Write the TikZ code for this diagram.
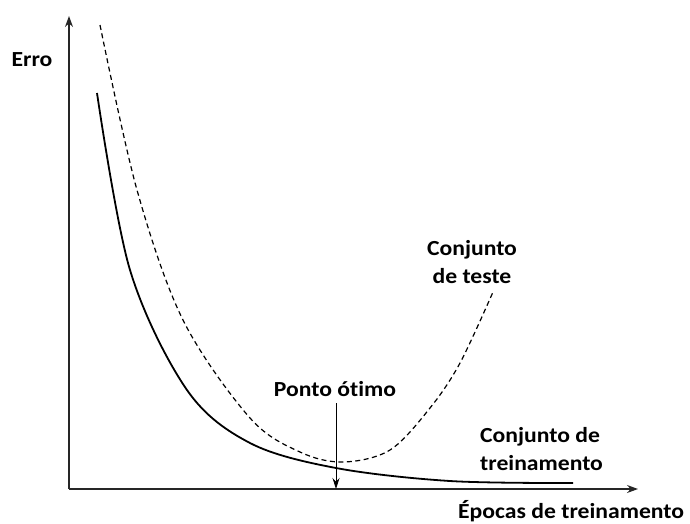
\documentclass[tikz,border=0pt]{standalone}
\usepackage{fontspec}
\setmainfont{Carlito}[FakeStretch=1.1, Ligatures=NoCommon]
\usetikzlibrary{arrows.meta}
\begin{document}
\begin{tikzpicture}[x=1pt,y=-1pt,
  lbl/.style={font=\bfseries\fontsize{21.5}{28}\selectfont, inner sep=0pt, align=center},
  axis/.style={line width=1.2pt, draw=black!85, -{Stealth[length=11pt,width=8pt]}},
  train/.style={line width=1.8pt},
  test/.style={line width=1.2pt, dash pattern=on 5pt off 3.5pt},
  ptr/.style={line width=0.9pt, -{Stealth[length=11pt,width=7pt]}}]
\useasboundingbox (0,0) rectangle (690,523);
\coordinate (O) at (69,489);
\coordinate (Ytop) at (69,16);
\coordinate (Xend) at (638,489);
\draw[axis] (O) -- (Ytop);
\draw[axis] (O) -- (Xend);
% training curve
\draw[train] plot[smooth, tension=0.55] coordinates {(97,93) (130,270) (187,390) (250,443) (336,468) (450,481) (573,483)};
% test curve
\draw[test] plot[smooth, tension=0.55] coordinates {(100,25) (137,190) (183,320) (250,418) (300,452) (343,462) (390,450) (430,408) (460,363) (493,292)};
\node[lbl] (erro) at (32,60) {Erro};
\node[lbl] (otimo) at (335,389) {Ponto ótimo};
\coordinate (opt) at (336,489);
\draw[ptr] (336,403) -- (opt);
\node[lbl] (teste) at (472,262) {Conjunto\\de teste};
\node[lbl, align=left, anchor=west] (treino) at (480,449) {Conjunto de\\treinamento};
\node[lbl, anchor=west] (epocas) at (458,511) {Épocas de treinamento};
\end{tikzpicture}
\end{document}
